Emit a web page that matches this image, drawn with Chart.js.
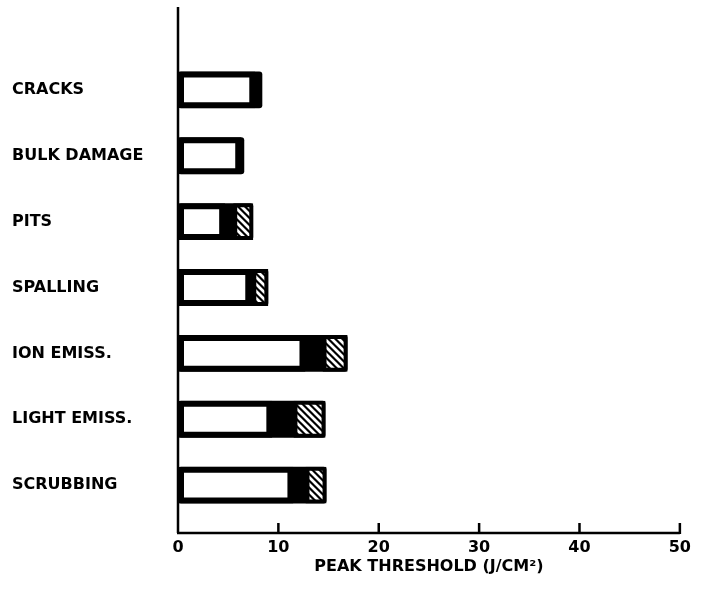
<!DOCTYPE html>
<html>
<head>
<meta charset="utf-8">
<script src="https://cdn.jsdelivr.net/npm/chart.js@4/dist/chart.umd.min.js"></script>
<style>
  html, body { margin: 0; padding: 0; background: #fff; }
</style>
</head>
<body>
<canvas id="c" width="711" height="589"></canvas>
<script>
// Damage / emission effects and their peak thresholds (J/cm²)
const categories = ['CRACKS', 'BULK DAMAGE', 'PITS', 'SPALLING', 'ION EMISS.', 'LIGHT EMISS.', 'SCRUBBING'];
// end of the open (white) part of each bar
const lowerThreshold = [7.7, 6.3, 4.7, 7.3, 12.7, 9.4, 11.5];
// start of the hatched part (null = no hatched part)
const hatchedFrom = [null, null, 5.5, 7.4, 14.4, 11.5, 12.7];
// full length of each bar
const peakThreshold = [8.4, 6.6, 7.5, 9.0, 16.9, 14.7, 14.8];
const xTicks = [0, 10, 20, 30, 40, 50];
const xTitle = 'PEAK THRESHOLD (J/CM²)';

const FONT = 'DejaVu Sans';

// white diagonal stripes (top-left to bottom-right) on black
function makeHatch() {
  const s = 7;
  const p = document.createElement('canvas');
  p.width = s; p.height = s;
  const g = p.getContext('2d');
  g.fillStyle = '#000';
  g.fillRect(0, 0, s, s);
  g.strokeStyle = '#fff';
  g.lineWidth = 2.8;
  g.beginPath();
  for (let k = -s; k <= s; k += s) {
    g.moveTo(k - 1, -1);
    g.lineTo(k + s + 1, s + 1);
  }
  g.stroke();
  return g.createPattern(p, 'repeat');
}
const hatch = makeHatch();

// axis frame: tall vertical axis, baseline with upward ticks
const frameAxes = {
  id: 'frameAxes',
  afterDatasetsDraw(chart) {
    const { ctx, chartArea, scales: { x } } = chart;
    const x0 = x.getPixelForValue(xTicks[0]);
    const x1 = x.getPixelForValue(xTicks[xTicks.length - 1]);
    const yTop = chartArea.top - 50;
    const yBase = chartArea.bottom + 15;
    ctx.save();
    ctx.strokeStyle = '#000';
    ctx.lineWidth = 2.5;
    ctx.beginPath();
    ctx.moveTo(x0, yTop);
    ctx.lineTo(x0, yBase);
    ctx.moveTo(x0 - 1, yBase);
    ctx.lineTo(x1, yBase);
    xTicks.slice(1).forEach(v => {
      const px = x.getPixelForValue(v);
      ctx.moveTo(px, yBase + 1);
      ctx.lineTo(px, yBase - 10);
    });
    ctx.stroke();
    ctx.restore();
  }
};

new Chart(document.getElementById('c'), {
  type: 'bar',
  data: {
    labels: categories,
    datasets: [
      {
        label: 'hatched',
        data: categories.map((_, i) => hatchedFrom[i] == null ? null : [hatchedFrom[i], peakThreshold[i]]),
        backgroundColor: hatch,
        borderColor: '#000',
        borderWidth: 4,
        borderSkipped: false,
        order: 1
      },
      {
        label: 'lower',
        data: categories.map((_, i) => [0, lowerThreshold[i]]),
        backgroundColor: '#fff',
        borderColor: '#000',
        borderWidth: 6,
        borderSkipped: false,
        order: 2
      },
      {
        label: 'peak',
        data: categories.map((_, i) => [0, peakThreshold[i]]),
        backgroundColor: '#000',
        borderWidth: 0,
        borderRadius: 3,
        borderSkipped: false,
        order: 3
      }
    ]
  },
  options: {
    indexAxis: 'y',
    responsive: false,
    animation: false,
    devicePixelRatio: 1,
    datasets: { bar: { grouped: false, barPercentage: 0.56, categoryPercentage: 1.0 } },
    layout: { padding: { top: 57, right: 28, left: 12, bottom: 0 } },
    plugins: { legend: { display: false }, tooltip: { enabled: false } },
    scales: {
      x: {
        type: 'linear',
        min: xTicks[0],
        max: xTicks[xTicks.length - 1],
        afterBuildTicks(scale) { scale.ticks = xTicks.map(v => ({ value: v })); },
        afterFit(scale) { scale.height = 71; },
        grid: { display: false, drawTicks: false },
        border: { display: false },
        ticks: {
          color: '#000',
          font: { family: FONT, weight: 'bold', size: 16 },
          padding: 20,
          maxRotation: 0
        },
        title: {
          display: true,
          text: xTitle,
          color: '#000',
          font: { family: FONT, weight: 'bold', size: 16 },
          padding: { top: 0, bottom: 13 }
        }
      },
      y: {
        type: 'category',
        afterFit(scale) { scale.width = 166; },
        grid: { display: false, drawTicks: false },
        border: { display: false },
        ticks: {
          color: '#000',
          crossAlign: 'far',
          font: { family: FONT, weight: 'bold', size: 16 }
        }
      }
    }
  },
  plugins: [frameAxes]
});
</script>
</body>
</html>
